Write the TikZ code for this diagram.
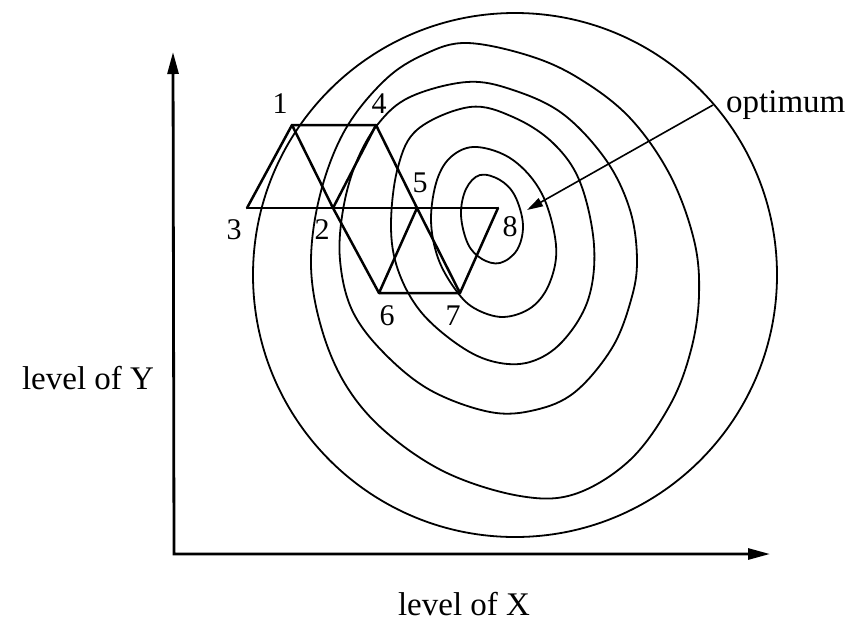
\documentclass[tikz,border=0pt]{standalone}
\usepackage{fontspec}
\setmainfont{Liberation Serif}
\usetikzlibrary{arrows.meta}
\begin{document}
\begin{tikzpicture}[x=1pt,y=-1pt,
  contour/.style={line width=1.8pt, line join=round},
  simplex/.style={line width=2.5pt, line join=round, line cap=round},
  axis/.style={line width=2.8pt, {Triangle[length=22pt,width=11pt]}-{Triangle[length=22pt,width=11pt]}},
  vlabel/.style={font=\fontsize{30}{30}\selectfont, inner sep=0pt},
  axlabel/.style={font=\fontsize{33}{36}\selectfont, inner sep=0pt}]
\useasboundingbox (0,0) rectangle (851,622);

% axes
\coordinate (O) at (174,554);
\coordinate (Ytip) at (173,52);
\coordinate (Xtip) at (770,554);
\draw[axis] (Ytip) -- (O) -- (Xtip);
\node[axlabel] (ly) at (88,378) {level of Y};
\node[axlabel] (lx) at (464,604) {level of X};

% contours
\coordinate (c1) at (515,275);
\draw[contour] (c1) circle[radius=262pt];
\draw[contour] plot[smooth cycle, tension=0.6] coordinates {
 (467,43) (530,56) (580,79) (630,118) (670,175) (694,240) (699,295) (691,350)
 (670,405) (630,460) (575,494) (520,496) (447,473) (387,433) (347,387) (322,330)
 (311,265) (320,195) (345,130) (385,80) (425,54)};
\draw[contour] plot[smooth cycle, tension=0.6] coordinates {
 (467,82) (513,90) (563,114) (606,160) (630,210) (637,260) (631,300) (612,348)
 (575,392) (535,410) (490,412) (430,390) (383,352) (352,310) (340,260) (343,210)
 (356,163) (378,124) (410,97)};
\draw[contour] plot[smooth cycle, tension=0.6] coordinates {
 (470,107) (513,117) (553,143) (580,182) (594,245) (588,300) (562,342) (530,362)
 (495,362) (460,346) (421,312) (398,270) (391,225) (398,167) (418,129)};
\draw[contour] plot[smooth cycle, tension=0.6] coordinates {
 (477,147) (513,160) (542,194) (556,245) (550,282) (532,307) (503,317) (474,308)
 (455,289) (438,258) (431,220) (437,180) (452,156)};
\draw[contour] plot[smooth cycle, tension=0.6] coordinates {
 (480,175) (500,180) (515,196) (523,225) (517,250) (500,263) (482,259) (468,244)
 (461,215) (466,189)};

% simplex vertices
\coordinate (p1) at (292,125);
\coordinate (p4) at (376,125);
\coordinate (p3) at (247,208);
\coordinate (p2) at (333,208);
\coordinate (p5) at (417,208);
\coordinate (p8) at (498,208);
\coordinate (p6) at (379,293);
\coordinate (p7) at (460,293);

\draw[simplex] (p3) -- (p1) -- (p4);
\draw[simplex] (p1) -- (p2) -- (p6);
\draw[simplex] (p2) -- (p4) -- (p5) -- (p7);
\draw[simplex] (p5) -- (p6) -- (p7) -- (p8);
\draw[line width=2pt] (p3) -- (p2);
\draw[line width=2.5pt] (p2) -- (p5);
\draw[line width=2pt] (p5) -- (p8);

% vertex labels
\node[vlabel] (l1) at (280,104) {1};
\node[vlabel] (l4) at (379,104) {4};
\node[vlabel] (l3) at (234,230) {3};
\node[vlabel] (l2) at (322,230) {2};
\node[vlabel] (l5) at (420,183) {5};
\node[vlabel] (l8) at (510,227) {8};
\node[vlabel] (l6) at (387,316) {6};
\node[vlabel] (l7) at (453,316) {7};

% optimum
\coordinate (optpt) at (527,210);
\node[axlabel, anchor=west, inner xsep=13pt, inner ysep=0pt] (opt) at (713,105) {optimum};
\draw[line width=1.6pt, -{Triangle[length=16pt,width=9pt]}] (opt.west) -- (optpt);
\end{tikzpicture}
\end{document}
